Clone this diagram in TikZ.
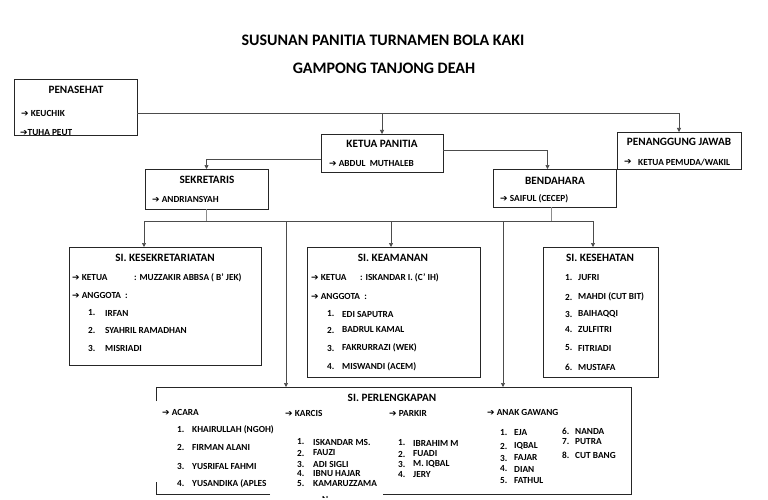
\documentclass[tikz,border=0pt]{standalone}
\usepackage{fontspec}
\setmainfont{Carlito}
\newfontfamily\sym{DejaVu Sans}
\usetikzlibrary{arrows.meta}
\newcommand{\ar}{{\sym\bfseries\fontsize{9}{10}\selectfont ➔}}
\begin{document}
\begin{tikzpicture}[x=1pt,y=-1pt,
  boxline/.style={draw=black!85, line width=0.9pt},
  orgbox/.style={boxline, anchor=north west, inner sep=0pt, outer sep=0pt},
  conn/.style={draw=black!70, line width=0.7pt},
  lconn/.style={draw=black!45, line width=0.7pt},
  arr/.style={conn, -{Triangle[length=4pt,width=4pt]}},
  ttl/.style={font=\bfseries\fontsize{16}{18}\selectfont, inner sep=0pt},
  hd/.style={font=\bfseries\fontsize{11.2}{13}\selectfont, inner sep=0pt},
  itm/.style={font=\bfseries\fontsize{9.3}{11}\selectfont, anchor=west, inner sep=0pt},
]
\useasboundingbox (0,0) rectangle (768,500);
\fill[white] (0,0) rectangle (768,500);

% titles
\node[ttl] (t1) at (383,40) {SUSUNAN PANITIA TURNAMEN BOLA KAKI};
\node[ttl] (t2) at (384,68) {GAMPONG TANJONG DEAH};

% boxes
\node[orgbox, minimum width=123pt, minimum height=56pt] (pen) at (14,79) {};
\node[orgbox, minimum width=122pt, minimum height=38pt] (ket) at (321,134) {};
\node[orgbox, minimum width=124pt, minimum height=37pt] (pj) at (617,132) {};
\node[orgbox, minimum width=123pt, minimum height=40pt] (sek) at (145,169) {};
\node[orgbox, minimum width=123pt, minimum height=38pt] (ben) at (493,169) {};
\node[orgbox, minimum width=192pt, minimum height=118pt] (kesek) at (69,247) {};
\node[orgbox, minimum width=173pt, minimum height=130pt] (keam) at (307,247) {};
\node[orgbox, minimum width=115pt, minimum height=130pt] (kes) at (543,247) {};
\node[anchor=north west, inner sep=0pt, outer sep=0pt, minimum width=475pt, minimum height=107pt] (perl) at (156,387) {};
\draw[boxline] ([yshift=-14pt]perl.north west) -- (perl.north west) -- (perl.north east) -- (perl.south east) -- ([xshift=227pt]perl.south west);
\draw[boxline] ([xshift=114pt]perl.south west) -- (perl.south west) -- ([yshift=12pt]perl.south west);

% connectors
\draw[arr] ([yshift=-6pt]pen.east) -| (ket.north);
\draw[arr] ([yshift=-6pt]pen.east) -| (pj.north);
\draw[arr] ([yshift=-6pt]ket.west) -| (sek.north);
\draw[arr] ([yshift=3pt]ket.east) -| ([xshift=-7pt]ben.north);
\coordinate (busL) at (144,221);
\coordinate (busR) at (593,221);
\coordinate (busA) at (286,221);
\coordinate (busB) at (391,221);
\coordinate (busC) at (503,221);
\draw[lconn] (sek.south) -- (sek.south |- busL);
\draw[lconn] ([xshift=-3pt]ben.south) -- ([xshift=-3pt]ben.south |- busL);
\draw[conn] (busL) -- (busR);
\draw[arr] (busL) -- (busL |- kesek.north);
\draw[arr] (busB) -- (busB |- keam.north);
\draw[arr] (busR) -- (busR |- kes.north);
\draw[arr] (busA) -- (busA |- perl.north);
\draw[arr] (busC) -- (busC |- perl.north);

% PENASEHAT
\node[hd] (penh) at (76,90) {PENASEHAT};
\node[itm] (pen1) at (21,113) {\ar\ KEUCHIK};
\begin{scope}
\clip (14,79) rectangle (137,134.5);
\node[itm] (pen2) at (20,132.5) {\ar TUHA PEUT};
\end{scope}

% KETUA PANITIA
\node[hd] (keth) at (382,144) {KETUA PANITIA};
\node[itm] (ket1) at (329,164) {\ar\ ABDUL\ \ MUTHALEB};

% PENANGGUNG JAWAB
\node[hd] (pjh) at (679,142) {PENANGGUNG JAWAB};
\node[itm] (pja) at (624,162) {\ar};
\node[itm] (pj1) at (638,162) {KETUA PEMUDA/WAKIL};

% SEKRETARIS
\node[hd] (sekh) at (207,180) {SEKRETARIS};
\node[itm] (sek1) at (152,199) {\ar\ ANDRIANSYAH};

% BENDAHARA
\node[hd] (benh) at (555,181) {BENDAHARA};
\node[itm] (ben1) at (500,199) {\ar\ SAIFUL (CECEP)};

% SI. KESEKRETARIATAN
\node[hd] (kesekh) at (165,258) {SI. KESEKRETARIATAN};
\node[itm] (ks1) at (72,278) {\ar\ KETUA};
\node[itm] (ks1b) at (134,278) {: MUZZAKIR ABBSA ( B' JEK)};
\node[itm] (ks2) at (72,295) {\ar\ ANGGOTA\ \ :};
\node[itm] (ksn1) at (88,313) {1.};
\node[itm] (ksm1) at (105,313) {IRFAN};
\node[itm] (ksn2) at (88,330) {2.};
\node[itm] (ksm2) at (105,330) {SYAHRIL RAMADHAN};
\node[itm] (ksn3) at (88,348) {3.};
\node[itm] (ksm3) at (105,348) {MISRIADI};

% SI. KEAMANAN
\node[hd] (keamh) at (393,258) {SI. KEAMANAN};
\node[itm] (ka1) at (311,278) {\ar\ KETUA};
\node[itm] (ka1b) at (360,278) {: ISKANDAR I. (C' IH)};
\node[itm] (ka2) at (311,296) {\ar\ ANGGOTA\ \ :};
\node[itm] (kan1) at (327,314) {1.};
\node[itm] (kam1) at (342,314) {EDI SAPUTRA};
\node[itm] (kan2) at (327,330) {2.};
\node[itm] (kam2) at (342,330) {BADRUL KAMAL};
\node[itm] (kan3) at (327,348) {3.};
\node[itm] (kam3) at (342,348) {FAKRURRAZI (WEK)};
\node[itm] (kan4) at (327,367) {4.};
\node[itm] (kam4) at (342,367) {MISWANDI (ACEM)};

% SI. KESEHATAN
\node[hd] (kesh) at (600,258) {SI. KESEHATAN};
\node[itm] (kn1) at (565,278) {1.};
\node[itm] (km1) at (578,278) {JUFRI};
\node[itm] (kn2) at (565,297) {2.};
\node[itm] (km2) at (578,297) {MAHDI (CUT BIT)};
\node[itm] (kn3) at (565,314) {3.};
\node[itm] (km3) at (578,314) {BAIHAQQI};
\node[itm] (kn4) at (565,330) {4.};
\node[itm] (km4) at (578,330) {ZULFITRI};
\node[itm] (kn5) at (565,348) {5.};
\node[itm] (km5) at (578,348) {FITRIADI};
\node[itm] (kn6) at (565,367) {6.};
\node[itm] (km6) at (578,367) {MUSTAFA};

% SI. PERLENGKAPAN
\node[hd] (perlh) at (392,398) {SI. PERLENGKAPAN};
\node[itm] (acr) at (162,412) {\ar\ ACARA};
\node[itm] (an1) at (177,430) {1.};
\node[itm] (am1) at (192,430) {KHAIRULLAH (NGOH)};
\node[itm] (an2) at (177,447) {2.};
\node[itm] (am2) at (192,447) {FIRMAN ALANI};
\node[itm] (an3) at (177,466) {3.};
\node[itm] (am3) at (192,466) {YUSRIFAL FAHMI};
\node[itm] (an4) at (177,484) {4.};
\node[itm] (am4) at (192,484) {YUSANDIKA (APLES};

\node[itm] (krc) at (285,413) {\ar\ KARCIS};
\node[itm] (cn1) at (297,442) {1.};
\node[itm] (cm1) at (313,442) {ISKANDAR MS.};
\node[itm] (cn2) at (297,453) {2.};
\node[itm] (cm2) at (313,453) {FAUZI};
\node[itm] (cn3) at (297,464) {3.};
\node[itm] (cm3) at (313,464) {ADI SIGLI};
\node[itm] (cn4) at (297,474) {4.};
\node[itm] (cm4) at (313,474) {IBNU HAJAR};
\node[itm] (cn5) at (297,484) {5.};
\node[itm] (cm5) at (313,484) {KAMARUZZAMA};
\begin{scope}
\clip (300,490) rectangle (340,497.5);
\node[itm] (cm5b) at (322,499) {N};
\end{scope}

\node[itm] (pkr) at (389,413) {\ar\ PARKIR};
\node[itm] (pn1) at (398,443) {1.};
\node[itm] (pm1) at (413,443) {IBRAHIM M};
\node[itm] (pn2) at (398,454) {2.};
\node[itm] (pm2) at (413,454) {FUADI};
\node[itm] (pn3) at (398,464) {3.};
\node[itm] (pm3) at (413,464) {M. IQBAL};
\node[itm] (pn4) at (398,475) {4.};
\node[itm] (pm4) at (413,475) {JERY};

\node[itm] (agw) at (487,412) {\ar\ ANAK GAWANG};
\node[itm] (gn1) at (500,433) {1.};
\node[itm] (gm1) at (514,433) {EJA};
\node[itm] (gn2) at (500,446) {2.};
\node[itm] (gm2) at (514,446) {IQBAL};
\node[itm] (gn3) at (500,458) {3.};
\node[itm] (gm3) at (514,458) {FAJAR};
\node[itm] (gn4) at (500,469) {4.};
\node[itm] (gm4) at (514,469) {DIAN};
\node[itm] (gn5) at (500,481) {5.};
\node[itm] (gm5) at (514,481) {FATHUL};
\node[itm] (gn6) at (562,431) {6.};
\node[itm] (gm6) at (575,431) {NANDA};
\node[itm] (gn7) at (562,442) {7.};
\node[itm] (gm7) at (575,442) {PUTRA};
\node[itm] (gn8) at (562,455) {8.};
\node[itm] (gm8) at (575,455) {CUT BANG};
\end{tikzpicture}
\end{document}
